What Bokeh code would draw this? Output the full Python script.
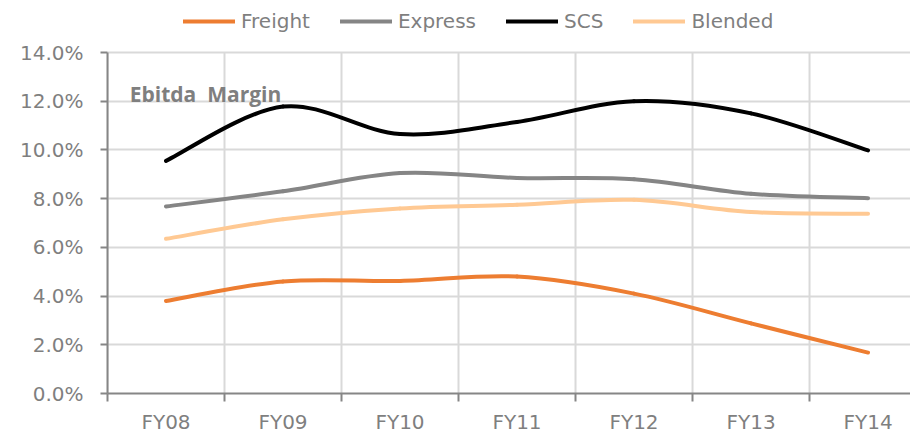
from bokeh.plotting import figure
from bokeh.models import Range1d, FixedTicker, PrintfTickFormatter, Legend, LegendItem, Label
from bokeh.embed import file_html
from bokeh.resources import INLINE

categories = ["FY08", "FY09", "FY10", "FY11", "FY12", "FY13", "FY14"]
freight = [3.8, 4.6, 4.62, 4.8, 4.1, 2.88, 1.68]
express = [7.68, 8.3, 9.05, 8.85, 8.8, 8.2, 8.02]
scs = [9.55, 11.78, 10.65, 11.15, 12.0, 11.5, 9.98]
blended = [6.35, 7.15, 7.6, 7.75, 7.95, 7.45, 7.38]
y_ticks = [0, 2, 4, 6, 8, 10, 12, 14]

series = [
    ("Freight", freight, "#ED7D31"),
    ("Express", express, "#858585"),
    ("SCS", scs, "#000000"),
    ("Blended", blended, "#FFC993"),
]

FONT = "DejaVu Sans"
TITLE_FONT = "Open Sans"
GRAY = "#7F7F7F"
GRID = "#D9D9D9"

n = len(categories)
xs = list(range(n))
y_max = y_ticks[-1]

# frame fills the canvas top; the value axis stops at 14%, headroom holds the legend
p = figure(width=910, height=438, output_backend="svg", toolbar_location=None,
           x_range=Range1d(-0.5, 6.363), y_range=Range1d(0, y_max * 393 / 341),
           min_border_left=107, min_border_right=0, min_border_top=0, min_border_bottom=45)
p.outline_line_color = None
p.background_fill_color = "white"
p.border_fill_color = "white"

boundaries = [i - 0.5 for i in range(n + 1)]

# vertical grid lines between categories, only up to the top of the value axis
p.segment(x0=boundaries, y0=[0] * len(boundaries), x1=boundaries, y1=[y_max] * len(boundaries),
          line_color=GRID, line_width=2, level="underlay")


def smooth_segments(x, y):
    """Bezier control points (Catmull-Rom style, as a spreadsheet's smoothed line)."""
    m = len(x)
    px = [x[0]] + list(x) + [x[-1]]
    py = [y[0]] + list(y) + [y[-1]]
    out = dict(x0=[], y0=[], x1=[], y1=[], cx0=[], cy0=[], cx1=[], cy1=[])
    for i in range(m - 1):
        a, b, c, d = i, i + 1, i + 2, i + 3
        out["x0"].append(px[b]); out["y0"].append(py[b])
        out["x1"].append(px[c]); out["y1"].append(py[c])
        out["cx0"].append(px[b] + (px[c] - px[a]) / 6)
        out["cy0"].append(py[b] + (py[c] - py[a]) / 6)
        out["cx1"].append(px[c] - (px[d] - px[b]) / 6)
        out["cy1"].append(py[c] - (py[d] - py[b]) / 6)
    return out


renderers = {}
for name, vals, color in [series[3], series[0], series[1], series[2]]:
    seg = smooth_segments(xs, vals)
    r = p.bezier(x0=seg["x0"], y0=seg["y0"], x1=seg["x1"], y1=seg["y1"],
                 cx0=seg["cx0"], cy0=seg["cy0"], cx1=seg["cx1"], cy1=seg["cy1"],
                 line_color=color, line_width=4, line_cap="round")
    renderers[name] = r

legend = Legend(items=[LegendItem(label=name, renderers=[renderers[name]]) for name, _, _ in series],
                orientation="horizontal", location=(76, 360),
                glyph_width=52, glyph_height=20, label_standoff=6, spacing=30,
                label_text_font=FONT, label_text_font_size="20px", label_text_color=GRAY,
                border_line_color=None, background_fill_alpha=0, padding=0, margin=0)
p.add_layout(legend, "center")

# axes
xa = p.xaxis[0]
xa.ticker = FixedTicker(ticks=xs, minor_ticks=boundaries)
xa.major_label_overrides = {i: c for i, c in enumerate(categories)}
xa.major_tick_line_color = None
xa.major_tick_out = 0
xa.major_tick_in = 0
xa.minor_tick_out = 8
xa.minor_tick_in = 0
xa.minor_tick_line_color = "#868686"
xa.minor_tick_line_width = 2
xa.axis_line_color = "#868686"
xa.axis_line_width = 2
xa.major_label_standoff = 8
xa.major_label_text_font = FONT
xa.major_label_text_font_size = "20px"
xa.major_label_text_color = GRAY

ya = p.yaxis[0]
ya.ticker = FixedTicker(ticks=y_ticks, minor_ticks=[])
ya.bounds = (0, y_max)
ya.formatter = PrintfTickFormatter(format="%.1f%%")
ya.major_tick_out = 7
ya.major_tick_in = 0
ya.major_tick_line_color = "#868686"
ya.major_tick_line_width = 2
ya.minor_tick_line_color = None
ya.axis_line_color = "#868686"
ya.axis_line_width = 2
ya.major_label_standoff = 17
ya.major_label_text_font = FONT
ya.major_label_text_font_size = "20px"
ya.major_label_text_color = GRAY

p.xgrid.grid_line_color = None
p.ygrid.grid_line_color = GRID
p.ygrid.grid_line_width = 2

title = Label(x=-0.31, y=12.3, text="Ebitda\u00a0 Margin", text_font=TITLE_FONT, text_font_style="bold",
              text_font_size="21px", text_color=GRAY, text_baseline="alphabetic")
p.add_layout(title)

open("out.html", "w").write(file_html(p, INLINE))
